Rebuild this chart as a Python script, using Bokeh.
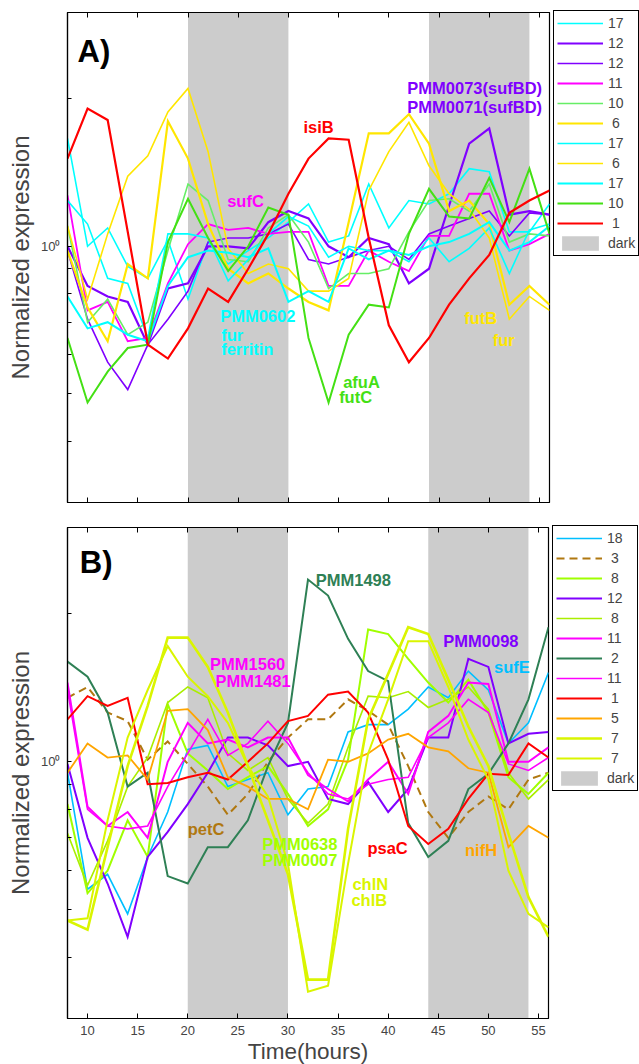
from bokeh.plotting import figure
from bokeh.models import (Range1d, FixedTicker, LinearAxis, Legend,
                          LegendItem, ColumnDataSource)
from bokeh.layouts import column
from bokeh.embed import file_html
from bokeh.resources import INLINE
from bokeh.core.properties import value

FONT = "Liberation Sans"

# ---------------- data ----------------
time_h = list(range(8, 57, 2))          # sampling times (hours)
dark_start = [20, 44]
dark_end = [30, 54]
x_ticks = [10, 15, 20, 25, 30, 35, 40, 45, 50, 55]
y_major = [1]
y_minor = [0.3, 0.4, 0.5, 0.6, 0.7, 0.8, 0.9, 2, 3]

# Panel A (iron related genes)
a_cyan1 = [1.66, 1.00, 1.09, 0.91, 0.86, 1.03, 0.78, 1.02, 0.92, 0.98, 1.04, 1.12, 1.22,
           1.02, 1.05, 1.34, 1.09, 1.24, 1.22, 1.28, 1.44, 1.42, 1.07, 1.07, 1.22]
a_purple1 = [1.00, 0.83, 0.79, 0.77, 0.63, 0.82, 0.84, 1.00, 1.00, 0.99, 1.12, 1.18, 1.14,
             1.00, 0.95, 1.04, 1.01, 0.84, 0.90, 1.21, 1.62, 1.74, 1.16, 1.18, 1.16]
a_purple2 = [0.98, 0.71, 0.58, 0.51, 0.63, 0.71, 0.81, 1.02, 1.04, 1.04, 1.06, 1.11, 0.94,
             0.92, 0.95, 0.98, 1.00, 0.94, 1.06, 1.10, 1.14, 1.18, 1.05, 1.17, 1.16]
a_magenta = [1.27, 0.74, 0.77, 0.64, 0.65, 0.84, 1.01, 1.11, 1.08, 1.09, 1.06, 1.07, 1.07,
             0.83, 0.83, 0.98, 0.93, 0.89, 1.05, 1.05, 1.28, 1.28, 0.98, 1.01, 1.06]
a_lgreen = [1.10, 0.70, 0.78, 0.66, 0.70, 0.98, 1.34, 1.24, 0.94, 0.93, 1.09, 1.16, 1.02,
            0.82, 0.88, 0.88, 0.90, 1.07, 1.24, 1.25, 1.18, 1.34, 1.02, 1.06, 1.05]
a_yellow1 = [0.98, 0.75, 0.64, 0.92, 0.86, 1.80, 1.51, 1.11, 0.90, 0.84, 0.88, 0.82, 0.77,
             0.74, 1.12, 1.70, 1.70, 1.86, 1.62, 1.18, 1.24, 1.11, 0.76, 0.83, 0.76]
a_cyan2 = [1.24, 1.11, 0.86, 0.84, 0.65, 1.06, 1.06, 1.04, 0.85, 0.94, 1.06, 1.15, 1.10,
           0.95, 1.00, 0.98, 0.98, 0.93, 1.04, 0.93, 0.99, 1.09, 0.88, 1.08, 1.11]
a_yellow2 = [1.10, 0.78, 1.06, 1.39, 1.53, 1.88, 2.10, 1.56, 0.99, 0.88, 0.92, 0.90, 0.81,
             0.81, 0.86, 1.30, 1.56, 1.79, 1.46, 1.28, 1.19, 1.04, 0.71, 0.79, 0.74]
a_cyan3 = [0.79, 0.68, 0.70, 0.66, 0.64, 0.83, 0.95, 0.98, 0.97, 0.95, 0.99, 0.77, 0.81,
           0.77, 0.99, 0.94, 0.98, 0.96, 1.00, 1.02, 1.06, 1.12, 0.98, 1.02, 1.10]
a_green = [0.65, 0.48, 0.555, 0.62, 0.63, 1.02, 1.25, 1.04, 0.89, 1.00, 1.20, 1.16, 0.65,
           0.48, 0.66, 0.76, 0.75, 1.06, 1.31, 1.15, 1.14, 1.38, 1.12, 1.44, 1.06]
a_red = [1.51, 1.91, 1.81, 1.07, 0.63, 0.59, 0.68, 0.82, 0.77, 0.90, 1.06, 1.28, 1.51,
         1.66, 1.65, 1.04, 0.69, 0.58, 0.65, 0.76, 0.86, 0.96, 1.17, 1.24, 1.30]

# Panel B (photosynthesis / other genes)
b_sky = [0.95, 0.55, 0.59, 0.49, 0.64, 0.79, 1.06, 1.08, 0.89, 0.92, 0.95, 0.78, 0.88,
         0.89, 1.15, 1.19, 1.19, 1.28, 1.42, 1.35, 1.53, 1.40, 1.09, 1.20, 1.52]
b_brown = [1.35, 1.42, 1.26, 1.21, 1.01, 1.10, 0.99, 0.89, 0.78, 0.86, 1.00, 1.12, 1.22,
           1.22, 1.34, 1.27, 1.19, 0.98, 0.79, 0.70, 0.79, 0.85, 0.80, 0.92, 0.95]
b_chart1 = [0.82, 0.54, 0.60, 0.76, 0.64, 1.31, 1.04, 0.96, 0.88, 0.93, 0.98, 0.86, 0.74,
            0.80, 1.01, 1.86, 1.82, 1.62, 1.45, 1.32, 1.47, 1.26, 0.93, 0.86, 0.95]
b_purple = [0.99, 0.70, 0.565, 0.44, 0.64, 0.72, 0.82, 0.95, 1.12, 1.12, 1.08, 0.98, 1.00,
            0.84, 0.82, 0.91, 0.79, 0.88, 1.12, 1.12, 1.62, 1.56, 1.09, 1.14, 1.15]
b_chart2 = [0.715, 0.56, 0.69, 0.89, 1.02, 1.32, 1.42, 1.35, 1.04, 0.96, 1.02, 0.84, 0.75,
            0.82, 1.07, 1.36, 1.35, 1.39, 1.29, 1.34, 1.42, 1.28, 0.95, 0.84, 0.92]
b_magenta1 = [1.45, 0.81, 0.74, 0.79, 0.70, 1.00, 1.20, 1.09, 1.11, 1.07, 1.12, 1.12, 0.94,
              0.88, 0.83, 0.92, 1.00, 0.86, 1.15, 1.24, 1.45, 1.44, 1.00, 1.00, 1.07]
b_dgreen = [1.60, 1.49, 1.26, 0.89, 0.95, 0.585, 0.565, 0.67, 0.67, 0.76, 0.98, 1.20, 2.35,
            2.18, 1.78, 1.53, 1.46, 0.75, 0.64, 0.69, 0.88, 0.945, 1.09, 1.34, 1.88]
b_magenta2 = [1.40, 0.80, 0.74, 0.73, 0.74, 0.89, 1.04, 1.22, 1.03, 1.09, 1.21, 1.09, 0.95,
              0.86, 0.84, 0.90, 0.92, 0.93, 1.12, 1.20, 1.34, 1.26, 0.99, 0.96, 1.02]
b_red = [1.22, 1.36, 1.30, 1.35, 0.90, 0.905, 0.93, 0.95, 0.92, 1.00, 1.09, 1.21, 1.24,
         1.37, 1.39, 1.26, 1.01, 0.74, 0.68, 0.73, 0.84, 0.945, 0.94, 1.09, 1.02]
b_orange = [0.95, 1.09, 1.02, 1.03, 0.92, 1.27, 1.28, 1.16, 0.93, 0.89, 0.84, 0.84, 0.80,
            1.01, 1.00, 1.04, 1.11, 1.14, 1.07, 1.05, 0.97, 0.95, 0.67, 0.74, 0.70]
b_lime1 = [0.475, 0.455, 0.67, 0.98, 1.30, 1.79, 1.79, 1.56, 1.26, 0.98, 0.76, 0.59, 0.36,
           0.36, 0.73, 1.22, 1.51, 1.88, 1.82, 1.47, 1.18, 0.98, 0.715, 0.53, 0.44]
b_lime2 = [0.475, 0.48, 0.76, 1.12, 1.40, 1.72, 1.49, 1.36, 1.20, 0.98, 0.85, 0.62, 0.34,
           0.35, 0.62, 1.04, 1.34, 1.76, 1.76, 1.42, 1.11, 0.92, 0.60, 0.49, 0.46]

# legend labels (number of genes in each cluster)
a_counts = ["17", "12", "12", "11", "10", "6", "17", "6", "17", "10", "1"]
b_counts = ["18", "3", "8", "12", "8", "11", "2", "11", "1", "5", "7", "7"]

# annotation texts
a_text = ["PMM0073(sufBD)", "PMM0071(sufBD)", "isiB", "sufC", "PMM0602", "fur", "ferritin",
          "afuA", "futC", "futB", "fur"]
b_text = ["PMM1498", "PMM1560", "PMM1481", "PMM0098", "sufE", "petC", "PMM0638", "PMM0007",
          "psaC", "nifH", "chlN", "chlB"]

# ---------------- styles ----------------
CYAN, PURPLE, MAGENTA = "#00FFFF", "#8000FF", "#FF00FF"
LGREEN, YELLOW, GREEN, RED = "#66EE66", "#FFE600", "#44E014", "#FF0000"
SKY, BROWN, CHART1, CHART2 = "#00BFFF", "#B07810", "#A0FF00", "#AAEE00"
DGREEN, ORANGE, LIME = "#2E8055", "#FFA500", "#DAF500"

a_series = [(a_cyan1, CYAN, 1.6, "solid"), (a_purple1, PURPLE, 2.2, "solid"),
            (a_purple2, PURPLE, 1.6, "solid"), (a_magenta, MAGENTA, 1.8, "solid"),
            (a_lgreen, LGREEN, 1.6, "solid"), (a_yellow1, YELLOW, 2.2, "solid"),
            (a_cyan2, CYAN, 1.6, "solid"), (a_yellow2, YELLOW, 1.6, "solid"),
            (a_cyan3, CYAN, 2.0, "solid"), (a_green, GREEN, 2.0, "solid"),
            (a_red, RED, 2.2, "solid")]
b_series = [(b_sky, SKY, 1.6, "solid"), (b_brown, BROWN, 2.0, "8 5"),
            (b_chart1, CHART1, 2.0, "solid"), (b_purple, PURPLE, 2.0, "solid"),
            (b_chart2, CHART2, 1.6, "solid"), (b_magenta1, MAGENTA, 2.0, "solid"),
            (b_dgreen, DGREEN, 2.0, "solid"), (b_magenta2, MAGENTA, 1.6, "solid"),
            (b_red, RED, 2.0, "solid"), (b_orange, ORANGE, 1.8, "solid"),
            (b_lime1, LIME, 2.6, "solid"), (b_lime2, LIME, 2.0, "solid")]

a_text_pos = dict(
    x=[48.55, 48.55, 31.5, 23.9, 23.2, 23.3, 23.3, 35.45, 35.05, 47.5, 50.35],
    y=[2.10, 1.92, 1.75, 1.236, 0.719, 0.659, 0.616, 0.529, 0.493, 0.715, 0.644],
    color=[PURPLE, PURPLE, RED, MAGENTA, CYAN, CYAN, CYAN, GREEN, GREEN, YELLOW, YELLOW],
    align=["center", "center", "left", "left", "left", "left", "left", "left", "left",
           "left", "left"])
b_text_pos = dict(
    x=[32.77, 22.23, 22.77, 45.5, 50.57, 20.0, 27.43, 27.43, 37.93, 47.67, 36.43, 36.33],
    y=[2.35, 1.58, 1.46, 1.76, 1.56, 0.731, 0.681, 0.632, 0.666, 0.662, 0.563, 0.522],
    color=[DGREEN, MAGENTA, MAGENTA, PURPLE, SKY, BROWN, CHART1, CHART1, RED, ORANGE,
           LIME, LIME],
    align=["left"] * 12)

LEG_PAD, LEG_ROW, LEG_SP, LEG_GAP = 3, 18, 2, 4


def legend_label(s):
    return s if len(s) > 1 else "\u00a0" + s


def hide_labels(ax, standoff=0):
    ax.major_label_text_font_size = "1px"
    ax.major_label_text_color = None
    ax.major_label_standoff = standoff


def make_panel(series, counts, texts, tpos, letter, letter_xy, frame_w, frame_h,
               left, top, bottom, show_x):
    p = figure(frame_width=frame_w, frame_height=frame_h, y_axis_type="log",
               x_range=Range1d(8, 56), y_range=Range1d(0.3, 3.0),
               output_backend="svg", toolbar_location=None,
               min_border_left=left, min_border_top=top, min_border_bottom=bottom,
               min_border_right=89, background_fill_color="white",
               border_fill_color="white")
    p.grid.visible = False
    p.outline_line_color = "black"
    p.outline_line_width = 1.2

    # dark periods
    dark = p.quad(left=dark_start, right=dark_end, bottom=0.1, top=10,
                  fill_color="#CCCCCC", line_color=None)

    items = []
    for (vals, col, lw, dash), cnt in zip(series, counts):
        r = p.line(time_h, vals, line_color=col, line_width=lw, line_dash=dash,
                   line_join="miter")
        items.append(LegendItem(label=legend_label(cnt), renderers=[r]))
    items.append(LegendItem(label="dark", renderers=[dark]))

    src = ColumnDataSource(dict(x=tpos["x"], y=tpos["y"], text=texts,
                                color=tpos["color"], align=tpos["align"]))
    p.text(x="x", y="y", text="text", source=src, text_color="color",
           text_align="align", text_baseline="alphabetic",
           text_font=value(FONT), text_font_style="bold", text_font_size="16.5px")
    p.text(x=[letter_xy[0]], y=[letter_xy[1]], text=[letter], text_color="black",
           text_align="left", text_baseline="alphabetic", text_font=value(FONT),
           text_font_style="bold", text_font_size="31px")

    # axes
    xa = p.xaxis[0]
    xa.ticker = FixedTicker(ticks=x_ticks)
    xa.major_tick_in = 5
    xa.major_tick_out = 0
    xa.minor_tick_line_color = None
    xa.axis_line_color = "black"
    xa.axis_line_width = 1.2
    xa.major_label_text_font = FONT
    if show_x:
        xa.major_label_text_font_size = "13px"
        xa.major_label_standoff = 7
        xa.axis_label = "Time(hours)"
        xa.axis_label_text_font = FONT
        xa.axis_label_text_font_size = "22.5px"
        xa.axis_label_text_font_style = "normal"
        xa.axis_label_standoff = 1
    else:
        hide_labels(xa)

    ya = p.yaxis[0]
    ya.ticker = FixedTicker(ticks=y_major, minor_ticks=y_minor)
    ya.major_label_overrides = {1: "10\u2070"}
    ya.major_tick_in = 4
    ya.major_tick_out = 0
    ya.minor_tick_in = 4
    ya.minor_tick_out = 0
    ya.axis_line_width = 1.2
    ya.major_label_text_font = FONT
    ya.major_label_text_font_size = "13px"
    ya.major_label_standoff = 7
    ya.axis_label = "Normalized expression"
    ya.axis_label_text_font = FONT
    ya.axis_label_text_font_size = "24px"
    ya.axis_label_text_font_style = "normal"
    ya.axis_label_standoff = 4

    top_ax = LinearAxis(ticker=FixedTicker(ticks=x_ticks), major_tick_in=5,
                        major_tick_out=0, minor_tick_line_color=None, axis_line_width=1.2)
    hide_labels(top_ax)
    p.add_layout(top_ax, "above")

    n = len(items)
    leg_h = 2 * LEG_PAD + n * LEG_ROW + (n - 1) * LEG_SP
    leg = Legend(items=items, location=(LEG_GAP, frame_h - leg_h), margin=0,
                 padding=LEG_PAD, spacing=LEG_SP, glyph_height=LEG_ROW, glyph_width=46,
                 label_height=LEG_ROW, label_standoff=5, label_text_font=FONT,
                 label_text_font_size="14px", border_line_color="black",
                 border_line_width=1, border_line_alpha=1.0,
                 background_fill_color="white", background_fill_alpha=1)
    p.add_layout(leg, "right")
    return p


pA = make_panel(a_series, a_counts, a_text, a_text_pos, "A)", (9.0, 2.50),
                482, 490, 67, 12, 14, False)
pB = make_panel(b_series, b_counts, b_text, b_text_pos, "B)", (9.23, 2.54),
                481, 491, 65, 11, 46, True)

layout = column(pA, pB)
open("out.html", "w").write(file_html(layout, INLINE))
